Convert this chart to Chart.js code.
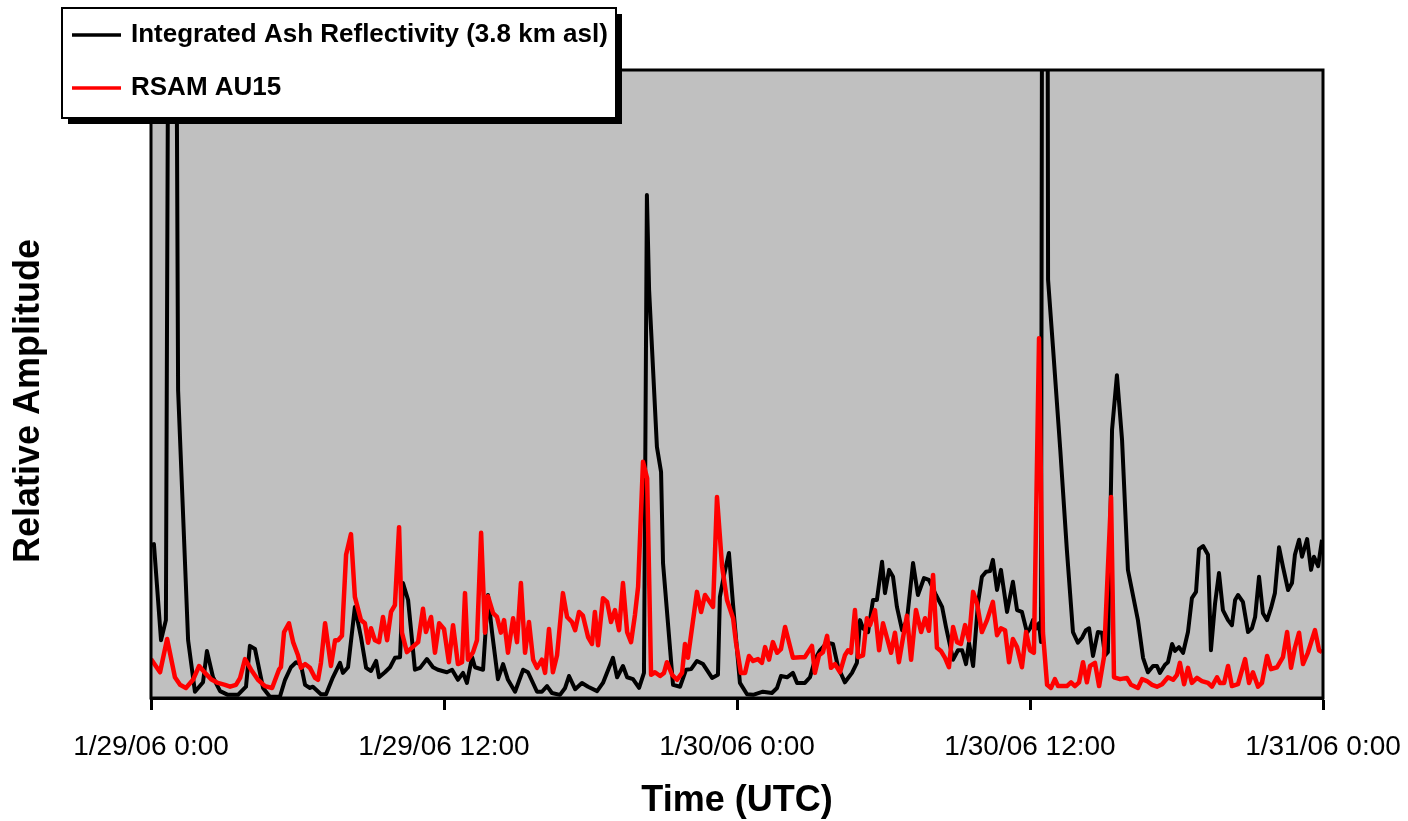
<!DOCTYPE html>
<html>
<head>
<meta charset="utf-8">
<script src="https://cdn.jsdelivr.net/npm/chart.js"></script>
<style>
    body { margin: 0; background: #fff; }
    #wrap { width: 1408px; height: 821px; }
</style>
</head>
<body>
<div id="wrap"><canvas id="chart1"></canvas></div>
<script>
const ctx = document.getElementById("chart1").getContext("2d");

Chart.defaults.font.family = "'Liberation Sans', Arial, sans-serif";
Chart.defaults.color = '#000';

const seriesLabels = ['Integrated Ash Reflectivity (3.8 km asl)', 'RSAM AU15'];
const yTitle = 'Relative Amplitude';
const tickHours = [0, 12, 24, 36, 48];
const tickLabels = ['1/29/06 0:00', '1/29/06 12:00', '1/30/06 0:00', '1/30/06 12:00', '1/31/06 0:00'];

// hours since 1/29/06 0:00 UTC
const ashHours = [
    0, 0.12, 0.41, 0.61, 0.86, 1.11, 1.52, 1.80, 2.13, 2.29,
    2.54, 2.83, 3.15, 3.56, 3.89, 4.05, 4.26, 4.59, 4.87, 5.28,
    5.49, 5.73, 5.94, 6.14, 6.31, 6.51, 6.63, 6.96, 7.17, 7.45,
    7.74, 7.86, 8.07, 8.35, 8.60, 8.81, 9.01, 9.22, 9.34, 9.58,
    9.79, 9.99, 10.20, 10.32, 10.53, 10.81, 11.02, 11.30, 11.55, 11.75,
    12.12, 12.33, 12.57, 12.78, 12.94, 13.15, 13.27, 13.60, 13.80, 13.97,
    14.21, 14.42, 14.62, 14.91, 15.24, 15.44, 15.81, 16.01, 16.22, 16.42,
    16.75, 16.96, 17.12, 17.37, 17.65, 17.90, 18.27, 18.51, 18.92, 19.09,
    19.33, 19.50, 19.74, 19.99, 20.19, 20.31, 20.40, 20.72, 20.89, 20.97,
    21.38, 21.67, 21.91, 22.12, 22.36, 22.61, 22.98, 23.22, 23.30, 23.47,
    23.67, 23.84, 24.12, 24.41, 24.66, 25.06, 25.43, 25.64, 25.80, 26.05,
    26.29, 26.46, 26.78, 26.99, 27.19, 27.40, 27.69, 27.93, 28.14, 28.42,
    28.71, 28.91, 29.04, 29.16, 29.37, 29.57, 29.73, 29.94, 30.06, 30.23,
    30.39, 30.55, 30.76, 30.96, 31.21, 31.41, 31.66, 31.86, 32.15, 32.40,
    32.56, 32.85, 33.05, 33.22, 33.38, 33.50, 33.67, 33.87, 34.03, 34.20,
    34.36, 34.48, 34.65, 34.81, 35.06, 35.30, 35.47, 35.67, 35.88, 36.00,
    36.12, 36.29, 36.37, 36.45, 36.61, 36.74, 36.94, 37.24, 37.51, 37.76,
    37.96, 38.13, 38.29, 38.42, 38.58, 38.78, 38.95, 39.07, 39.19, 39.36,
    39.56, 39.77, 40.01, 40.42, 40.63, 40.83, 41.04, 41.20, 41.32, 41.53,
    41.65, 41.82, 41.94, 42.10, 42.27, 42.47, 42.63, 42.80, 42.92, 43.09,
    43.29, 43.41, 43.58, 43.74, 43.90, 44.11, 44.27, 44.40, 44.52, 44.72,
    44.93, 45.09, 45.22, 45.38, 45.54, 45.71, 45.87, 46.03, 46.20, 46.36,
    46.57, 46.73, 46.85, 47.02, 47.14, 47.35, 47.51, 47.63, 47.80, 47.96
];
const ashValues = [
    24.4, 24.5, 9.2, 12.4, 270, 49.0, 9.2, 1.0, 2.5, 7.5,
    3.3, 1.1, 0.5, 0.5, 1.8, 8.3, 7.8, 1.6, 0.2, 0.2,
    2.9, 4.9, 5.7, 5.3, 2.1, 1.6, 1.8, 0.6, 0.6, 3.3,
    5.6, 4.0, 4.9, 14.5, 9.7, 4.8, 4.3, 5.9, 3.3, 4.1,
    4.9, 6.4, 6.5, 18.3, 15.6, 4.5, 4.8, 6.2, 4.9, 4.5,
    4.1, 4.5, 2.9, 4.0, 2.4, 6.5, 4.9, 4.5, 16.4, 10.4,
    3.0, 5.4, 2.9, 1.0, 4.5, 4.1, 1.0, 1.0, 1.9, 0.8,
    0.5, 1.6, 3.5, 1.4, 2.4, 1.8, 1.1, 2.4, 6.4, 3.3,
    5.1, 3.3, 3.0, 1.6, 4.0, 80.1, 65.0, 40.0, 36.0, 21.5,
    2.1, 1.8, 4.5, 4.6, 5.9, 5.4, 3.2, 3.7, 16.1, 19.6,
    23.1, 14.8, 2.4, 0.6, 0.5, 1.0, 0.8, 1.6, 3.5, 3.3,
    4.0, 2.4, 2.4, 3.3, 6.1, 7.6, 8.8, 8.6, 4.9, 2.5,
    4.0, 5.6, 12.4, 11.1, 10.5, 15.6, 15.6, 21.7, 16.7, 20.4,
    19.3, 14.5, 10.8, 12.4, 21.5, 16.4, 19.1, 18.8, 16.4, 14.5,
    11.3, 6.1, 7.6, 7.6, 5.4, 8.8, 5.1, 15.1, 19.3, 20.1,
    20.2, 22.0, 17.2, 20.4, 13.7, 18.5, 14.0, 13.7, 10.4, 11.1,
    12.4, 11.1, 11.9, 8.9, 400, 66.6, 55.9, 39.5, 23.6, 10.5,
    8.8, 9.6, 10.8, 11.1, 6.7, 10.5, 10.4, 6.8, 7.3, 42.7,
    51.4, 41.1, 20.4, 12.4, 6.4, 4.1, 5.1, 5.1, 4.0, 5.3,
    5.7, 8.6, 7.5, 8.1, 7.2, 10.5, 15.9, 16.9, 23.7, 24.2,
    22.8, 7.6, 15.1, 19.9, 14.0, 12.4, 11.6, 15.6, 16.4, 15.3,
    10.5, 11.1, 12.9, 19.3, 13.5, 12.4, 14.3, 16.7, 24.0, 20.9,
    17.2, 18.3, 22.8, 25.2, 22.5, 25.3, 20.4, 22.5, 21.0, 25.2
];

const rsamHours = [
    0, 0.37, 0.66, 0.98, 1.19, 1.43, 1.72, 1.97, 2.21, 2.46,
    2.74, 3.03, 3.24, 3.48, 3.65, 3.85, 4.10, 4.38, 4.67, 4.96,
    5.24, 5.32, 5.45, 5.65, 5.82, 6.02, 6.14, 6.31, 6.51, 6.72,
    6.84, 6.96, 7.13, 7.37, 7.54, 7.66, 7.82, 7.99, 8.19, 8.35,
    8.60, 8.76, 8.89, 9.01, 9.17, 9.34, 9.50, 9.67, 9.83, 9.99,
    10.16, 10.28, 10.48, 10.94, 11.14, 11.26, 11.47, 11.63, 11.80, 12.00,
    12.20, 12.37, 12.57, 12.74, 12.86, 12.98, 13.19, 13.35, 13.52, 13.68,
    13.80, 14.01, 14.17, 14.33, 14.46, 14.62, 14.83, 14.99, 15.15, 15.32,
    15.48, 15.65, 15.81, 16.01, 16.14, 16.30, 16.46, 16.63, 16.87, 17.04,
    17.24, 17.37, 17.53, 17.69, 17.90, 18.06, 18.18, 18.31, 18.51, 18.68,
    18.84, 19.00, 19.17, 19.33, 19.50, 19.66, 19.82, 19.95, 20.15, 20.32,
    20.48, 20.64, 20.85, 21.01, 21.13, 21.34, 21.54, 21.75, 21.87, 21.99,
    22.36, 22.53, 22.69, 23.02, 23.18, 23.39, 23.59, 23.84, 23.96, 24.16,
    24.33, 24.49, 24.66, 24.86, 25.02, 25.15, 25.31, 25.47, 25.64, 25.80,
    25.97, 26.29, 26.58, 26.78, 27.07, 27.19, 27.36, 27.52, 27.69, 27.85,
    28.01, 28.22, 28.42, 28.55, 28.67, 28.83, 28.96, 29.16, 29.32, 29.45,
    29.65, 29.82, 29.98, 30.31, 30.47, 30.63, 30.80, 30.96, 31.13, 31.33,
    31.54, 31.70, 31.86, 32.03, 32.19, 32.35, 32.52, 32.68, 32.85, 33.01,
    33.17, 33.34, 33.50, 33.67, 33.83, 34.03, 34.24, 34.48, 34.65, 34.81,
    34.98, 35.14, 35.30, 35.47, 35.67, 35.84, 36.00, 36.16, 36.37, 36.53,
    36.70, 36.86, 37.02, 37.15, 37.51, 37.68, 37.84, 38.01, 38.17, 38.33,
    38.46, 38.66, 38.83, 39.03, 39.32, 39.44, 39.69, 39.97, 40.14, 40.42,
    40.59, 40.79, 41.00, 41.20, 41.41, 41.65, 41.86, 42.02, 42.14, 42.31,
    42.47, 42.63, 42.84, 43.04, 43.29, 43.45, 43.66, 43.78, 43.95, 44.11,
    44.27, 44.52, 44.81, 44.97, 45.13, 45.34, 45.50, 45.71, 45.87, 46.12,
    46.36, 46.53, 46.69, 46.85, 47.02, 47.18, 47.38, 47.67, 47.84, 47.96
];
const rsamValues = [
    6.2, 4.1, 9.4, 3.3, 2.1, 1.6, 2.9, 5.1, 4.0, 3.0,
    2.4, 2.1, 1.8, 2.1, 3.2, 6.2, 4.5, 2.9, 1.9, 1.6,
    4.5, 4.9, 10.5, 11.9, 8.9, 6.8, 4.8, 5.4, 4.8, 3.2,
    2.9, 5.6, 11.9, 5.1, 9.2, 9.2, 9.9, 22.8, 26.1, 16.1,
    12.4, 11.9, 8.8, 11.1, 9.2, 8.9, 12.9, 9.2, 13.7, 14.8,
    27.2, 10.4, 7.3, 8.9, 14.2, 10.5, 12.9, 7.2, 11.9, 11.0,
    5.7, 11.6, 5.4, 5.7, 16.7, 6.1, 7.3, 9.2, 26.3, 10.4,
    16.2, 13.5, 12.9, 10.4, 12.4, 7.2, 12.7, 8.9, 18.3, 7.2,
    12.1, 6.1, 4.8, 6.1, 4.0, 11.0, 4.1, 6.8, 16.7, 12.9,
    12.1, 10.8, 13.7, 13.1, 9.7, 8.6, 13.7, 8.4, 15.9, 15.3,
    12.1, 14.0, 10.8, 18.3, 10.5, 8.9, 13.2, 17.7, 37.6, 35.0,
    3.7, 4.1, 3.5, 4.0, 5.7, 3.7, 2.9, 4.0, 8.6, 6.4,
    16.9, 13.7, 16.4, 14.5, 32.0, 20.9, 15.6, 12.7, 8.8, 4.0,
    4.0, 6.7, 5.9, 6.2, 5.6, 8.1, 6.1, 8.9, 7.2, 7.8,
    11.3, 6.4, 6.5, 6.5, 8.3, 4.0, 6.8, 7.3, 9.9, 4.8,
    5.4, 4.1, 6.8, 7.6, 7.2, 14.0, 6.5, 6.8, 12.7, 11.6,
    14.0, 7.6, 11.9, 7.2, 10.4, 5.7, 9.6, 13.1, 6.1, 14.0,
    10.5, 12.7, 10.7, 19.6, 8.0, 7.5, 6.4, 4.9, 11.3, 8.9,
    8.6, 11.6, 9.2, 16.9, 15.1, 10.5, 12.4, 15.3, 10.0, 11.1,
    10.8, 5.7, 9.4, 8.1, 4.9, 10.5, 7.6, 7.2, 57.3, 10.4,
    2.1, 1.6, 3.0, 1.9, 1.9, 2.5, 1.9, 2.5, 5.7, 2.5,
    5.1, 5.6, 1.9, 6.5, 32.0, 3.3, 3.0, 3.2, 2.1, 1.6,
    3.0, 2.7, 2.1, 1.8, 2.2, 3.3, 2.9, 3.7, 5.6, 2.2,
    4.8, 2.4, 3.2, 2.7, 2.4, 1.8, 3.3, 2.4, 2.4, 5.1,
    1.9, 2.2, 6.2, 2.4, 4.1, 1.8, 2.4, 6.7, 4.6, 4.9,
    6.5, 10.5, 4.8, 8.0, 10.4, 5.4, 7.2, 10.8, 7.6, 7.3
];

// grey plot area behind everything, black frame over the lines
const plotBackground = {
    id: 'plotBackground',
    beforeDraw(chart) {
        const a = chart.chartArea;
        chart.ctx.save();
        chart.ctx.fillStyle = '#c0c0c0';
        chart.ctx.fillRect(a.left, a.top, a.right - a.left, a.bottom - a.top);
        chart.ctx.restore();
    },
    afterDatasetsDraw(chart) {
        const a = chart.chartArea;
        const c = chart.ctx;
        c.save();
        c.strokeStyle = '#000';
        c.lineWidth = 3;
        c.strokeRect(a.left, a.top, a.right - a.left, a.bottom - a.top);
        // y title, sits a bit below the middle of the axis like the original
        c.translate(29, (a.top + a.bottom) / 2 + 17);
        c.rotate(-Math.PI / 2);
        c.font = "bold 36px 'Liberation Sans', Arial, sans-serif";
        c.fillStyle = '#000';
        c.textAlign = 'center';
        c.textBaseline = 'middle';
        c.fillText(yTitle, 0, 0);
        c.restore();
    }
};

// excel style legend box with shadow, sitting over the top left corner
const boxLegend = {
    id: 'boxLegend',
    afterDraw(chart) {
        const c = chart.ctx;
        const x = 62, y = 8, w = 554, h = 110;
        c.save();
        c.fillStyle = '#000';
        c.fillRect(x + 6, y + 6, w, h);
        c.fillStyle = '#fff';
        c.fillRect(x, y, w, h);
        c.lineWidth = 2;
        c.strokeStyle = '#000';
        c.strokeRect(x, y, w, h);
        c.font = "bold 26px 'Liberation Sans', Arial, sans-serif";
        c.textBaseline = 'middle';
        chart.data.datasets.forEach((ds, i) => {
            const ly = i === 0 ? 35 : 88;
            c.strokeStyle = ds.borderColor;
            c.lineWidth = 3.5;
            c.beginPath();
            c.moveTo(72, ly);
            c.lineTo(121, ly);
            c.stroke();
            c.fillStyle = '#000';
            c.fillText(ds.label, 131, ly);
        });
        c.restore();
    }
};

const chartdata = {
    datasets: [{
        label: seriesLabels[0],
        data: ashHours.map((h, i) => ({x: h, y: ashValues[i]})),
        borderColor: '#000000',
        borderWidth: 4,
        order: 1,
    }, {
        label: seriesLabels[1],
        data: rsamHours.map((h, i) => ({x: h, y: rsamValues[i]})),
        borderColor: '#ff0000',
        borderWidth: 4.5,
        order: 0,
    }]
};

const config = {
    type: 'line',
    data: chartdata,
    plugins: [plotBackground, boxLegend],
    options: {
        responsive: true,
        maintainAspectRatio: false,
        animation: false,
        layout: {
            padding: {top: 70, right: 85, left: 0, bottom: 0}
        },
        datasets: {
            line: {
                pointRadius: 0,
                tension: 0,
                clip: 0,
                borderJoinStyle: 'round',
            }
        },
        scales: {
            x: {
                type: 'linear',
                min: 0,
                max: 48,
                ticks: {
                    stepSize: 12,
                    autoSkip: false,
                    maxRotation: 0,
                    padding: 20,
                    font: {size: 28},
                    callback: (value) => tickLabels[tickHours.indexOf(value)],
                },
                grid: {
                    drawOnChartArea: false,
                    drawTicks: true,
                    tickLength: 12,
                    tickWidth: 3,
                    tickColor: '#000',
                },
                border: {color: '#000', width: 3},
                title: {
                    display: true,
                    text: 'Time (UTC)',
                    font: {size: 36, weight: 'bold', lineHeight: 1},
                    padding: {top: 0, bottom: 2},
                },
                afterFit: (scale) => {
                    scale.height = 123;
                    scale.paddingLeft = 0;
                    scale.paddingRight = 0;
                },
            },
            y: {
                min: 0,
                max: 100,
                ticks: {display: false},
                grid: {display: false},
                border: {display: false},
                afterFit: (scale) => { scale.width = 151; },
            }
        },
        plugins: {
            legend: {display: false},
            tooltip: {enabled: false},
        }
    }
};

const newChart = new Chart(ctx, config);
</script>
</body>
</html>
